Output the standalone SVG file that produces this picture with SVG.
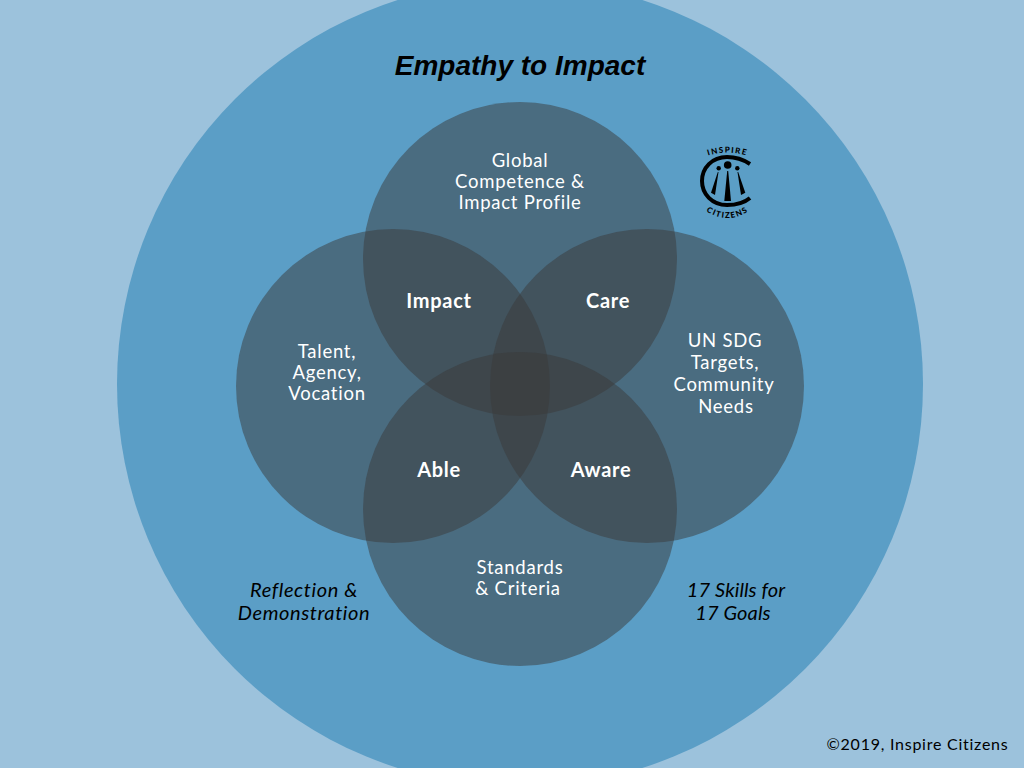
<svg xmlns="http://www.w3.org/2000/svg" width="1024" height="768" viewBox="0 0 1024 768">
<style>
.c{fill:#3a3a3a;fill-opacity:.5}
text{font-family:"Lato","Open Sans",sans-serif;text-anchor:middle}
.w{fill:#fff;font-size:18.500px;font-weight:400;letter-spacing:.75px}
.b{fill:#fff;font-size:20px;font-weight:700;letter-spacing:.7px}
.i{fill:#000;font-size:20px;font-style:italic;font-weight:400;letter-spacing:.6px}
.n{letter-spacing:.1px}
.l{fill:#000;font-size:8px;font-weight:900;letter-spacing:1.300px}
</style>
<defs>
<path id="arcTop" d="M704 157A65 65 0 0 1 751 157"/>
<path id="arcBot" d="M702 208Q727 228 753 208"/>
</defs>
<rect width="1024" height="768" fill="#9cc2dc"/>
<circle id="outer" cx="520" cy="384" r="403" fill="#5b9ec6"/>
<g id="venn">
<circle id="top" class="c" cx="520" cy="259" r="157"/>
<circle id="left" class="c" cx="393" cy="386" r="157"/>
<circle id="right" class="c" cx="647" cy="386" r="157"/>
<circle id="bottom" class="c" cx="520" cy="509" r="157"/>
</g>
<g id="title"><text x="520" y="75" style="font-family:'Liberation Sans',Arial,sans-serif;font-size:28px;font-weight:700;font-style:italic">Empathy to Impact</text></g>
<g id="labels">
<text class="w" x="520" y="167">Global</text>
<text class="w" x="520" y="188">Competence &amp;</text>
<text class="w" x="520" y="209">Impact Profile</text>
<text class="w" x="327" y="358">Talent,</text>
<text class="w" x="327" y="379">Agency,</text>
<text class="w" x="327" y="400">Vocation</text>
<text class="w" x="725" y="347">UN SDG</text>
<text class="w" x="725" y="369">Targets,</text>
<text class="w" x="724" y="391">Community</text>
<text class="w" x="726" y="413">Needs</text>
<text class="w" x="520" y="574">Standards</text>
<text class="w" x="518" y="595">&amp; Criteria</text>
<text class="b" x="439" y="308">Impact</text>
<text class="b" x="608" y="308">Care</text>
<text class="b" x="439" y="477">Able</text>
<text class="b" x="601" y="477">Aware</text>
<text class="i" x="304" y="597">Reflection &amp;</text>
<text class="i" x="304" y="620">Demonstration</text>
<text class="i n" x="736" y="597">17 Skills for</text>
<text class="i n" x="733" y="620">17 Goals</text>
<text x="917.500" y="750" style="fill:#000;font-size:16px;font-weight:400;letter-spacing:.75px">©2019, Inspire Citizens</text>
</g>
<g id="logo">
<path d="M750 164C744 160 735 157 727 157C712 157 702 168 702 181C702 194 712 205 727 205C735 205 744 203 750 198" fill="none" stroke="#000" stroke-width="4"/>
<circle cx="727.700" cy="165" r="3.800"/><circle cx="718.700" cy="168.300" r="2.200"/><circle cx="737.300" cy="168.300" r="2.200"/>
<polygon points="727.200,171 728.200,171 731,201 724.300,201"/>
<polygon points="717.800,172 718.500,172 715,195 711,192.700"/>
<polygon points="737.500,172 738.200,172 745.300,192.700 741,195"/>
<text class="l"><textPath href="#arcTop" startOffset="50%">INSPIRE</textPath></text>
<text class="l"><textPath href="#arcBot" startOffset="50%">CITIZENS</textPath></text>
</g>
</svg>
